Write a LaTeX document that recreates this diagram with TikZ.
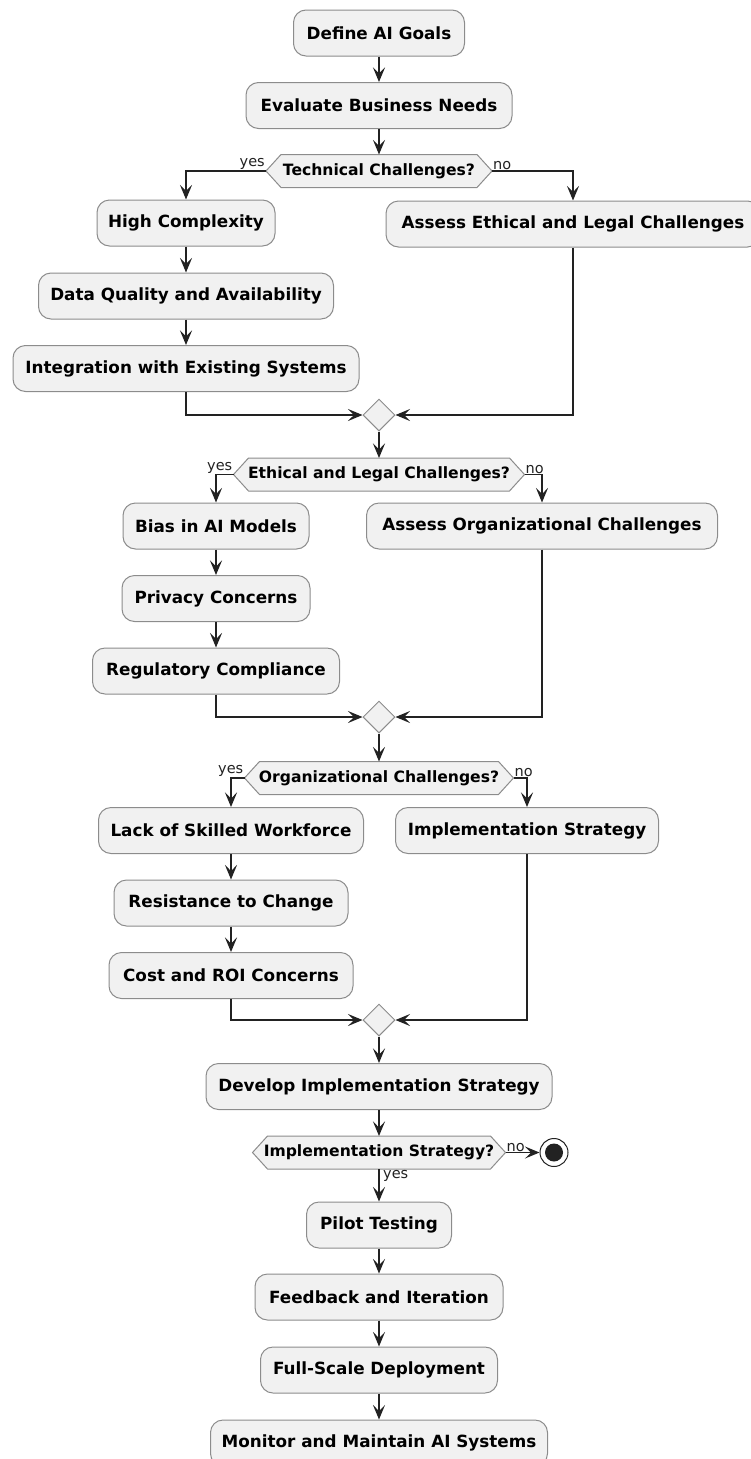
\documentclass[tikz,border=0pt]{standalone}
\usepackage{fontspec}
\setmainfont{DejaVu Sans}
\usetikzlibrary{shapes.geometric,arrows.meta,calc}
\definecolor{boxfill}{HTML}{F1F1F1}
\definecolor{boxline}{HTML}{8C8C8C}
\definecolor{arrowc}{HTML}{222222}
\tikzset{
 act/.style={draw=boxline, fill=boxfill, rounded corners=12.5pt, minimum height=46pt, inner sep=0pt, font=\fontsize{16.8}{19}\selectfont\bfseries, line width=1pt},
 hextxt/.style={inner sep=0pt, font=\fontsize{15.6}{18}\selectfont\bfseries},
 hexshape/.style={draw=boxline, fill=boxfill, line width=1pt},
 merge/.style={diamond, draw=boxline, fill=boxfill, minimum width=32pt, minimum height=32pt, inner sep=0pt, line width=1pt},
 flow/.style={draw=arrowc, line width=1.25pt, -{Stealth[length=14.5pt,width=12pt,inset=6pt]}},
 lbl/.style={font=\fontsize{14.5}{17}\selectfont, text=arrowc, inner sep=1pt},
}
\newcommand\hexbox[5]{%
 \draw[hexshape] (#2-#4,#3) -- (#2-#4+15,#3-16.5) -- (#2+#4-15,#3-16.5) -- (#2+#4,#3) -- (#2+#4-15,#3+16.5) -- (#2-#4+15,#3+16.5) -- cycle;
 \node[hextxt] (#1) at (#2,#3) {#5};
 \coordinate (#1-w) at (#2-#4,#3);
 \coordinate (#1-e) at (#2+#4,#3);
 \coordinate (#1-n) at (#2,#3-16.5);
 \coordinate (#1-s) at (#2,#3+16.5);
}
\begin{document}
\begin{tikzpicture}[x=1pt,y=-1pt]
\useasboundingbox (0,0) rectangle (750,1459);
% main column
\node[act, minimum width=171pt] (a1) at (379,33) {Define AI Goals};
\node[act, minimum width=266pt] (a2) at (379,105.5) {Evaluate Business Needs};
\hexbox{h1}{379}{171}{113}{Technical Challenges?}
% yes branch 1
\node[act, minimum width=178pt] (b1) at (186,223) {High Complexity};
\node[act, minimum width=295pt] (b2) at (186,296) {Data Quality and Availability};
\node[act, minimum width=346pt] (b3) at (186,368.5) {Integration with Existing Systems};
% no branch 1
\node[act, minimum width=374pt] (c1) at (573,224) {Assess Ethical and Legal Challenges};
\node[merge] (m1) at (379,415) {};
\hexbox{h2}{379}{474.5}{145.5}{Ethical and Legal Challenges?}
% yes branch 2
\node[act, minimum width=186pt] (d1) at (216,526) {Bias in AI Models};
\node[act, minimum width=188pt] (d2) at (216,598.5) {Privacy Concerns};
\node[act, minimum width=247pt] (d3) at (216,671) {Regulatory Compliance};
% no branch 2
\node[act, minimum width=351pt] (e1) at (542,526) {Assess Organizational Challenges};
\node[merge] (m2) at (379,717) {};
\hexbox{h3}{379}{778}{134.5}{Organizational Challenges?}
% yes branch 3
\node[act, minimum width=265pt] (f1) at (231,830.5) {Lack of Skilled Workforce};
\node[act, minimum width=234pt] (f2) at (231,903) {Resistance to Change};
\node[act, minimum width=244pt] (f3) at (231,975.5) {Cost and ROI Concerns};
% no branch 3
\node[act, minimum width=263pt] (g1) at (527,830.5) {Implementation Strategy};
\node[merge] (m3) at (379,1020) {};
\node[act, minimum width=346pt] (p1) at (379,1086.5) {Develop Implementation Strategy};
\hexbox{h4}{379}{1152.5}{126.5}{Implementation Strategy?}
\node[circle, draw=arrowc, fill=white, line width=1pt, minimum size=28pt, inner sep=0pt] (end) at (554,1152.5) {};
\fill[arrowc] (end.center) circle (9pt);
\node[act, minimum width=145pt] (p2) at (379,1225) {Pilot Testing};
\node[act, minimum width=248pt] (p3) at (379,1297) {Feedback and Iteration};
\node[act, minimum width=237pt] (p4) at (379,1370) {Full-Scale Deployment};
\node[act, minimum width=337pt] (p5) at (379,1443) {Monitor and Maintain AI Systems};
% connectors
\draw[flow] (a1.south) -- (a2.north);
\draw[flow] (a2.south) -- (h1-n);
\draw[flow] (h1-w) -| (b1.north);
\node[lbl, anchor=south east] (y1) at (h1-w) {yes};
\draw[flow] (h1-e) -| (c1.north);
\node[lbl, anchor=south west] (n1) at (h1-e) {no};
\draw[flow] (b1.south) -- (b2.north);
\draw[flow] (b2.south) -- (b3.north);
\draw[flow] (b3.south) |- (m1.west);
\draw[flow] (c1.south) |- (m1.east);
\draw[flow] (m1.south) -- (h2-n);
\draw[flow] (h2-w) -| (d1.north);
\node[lbl, anchor=south east] (y2) at (h2-w) {yes};
\draw[flow] (h2-e) -| (e1.north);
\node[lbl, anchor=south west] (n2) at (h2-e) {no};
\draw[flow] (d1.south) -- (d2.north);
\draw[flow] (d2.south) -- (d3.north);
\draw[flow] (d3.south) |- (m2.west);
\draw[flow] (e1.south) |- (m2.east);
\draw[flow] (m2.south) -- (h3-n);
\draw[flow] (h3-w) -| (f1.north);
\node[lbl, anchor=south east] (y3) at (h3-w) {yes};
\draw[flow] (h3-e) -| (g1.north);
\node[lbl, anchor=south west] (n3) at (h3-e) {no};
\draw[flow] (f1.south) -- (f2.north);
\draw[flow] (f2.south) -- (f3.north);
\draw[flow] (f3.south) |- (m3.west);
\draw[flow] (g1.south) |- (m3.east);
\draw[flow] (m3.south) -- (p1.north);
\draw[flow] (p1.south) -- (h4-n);
\draw[flow] (h4-e) -- (end.west);
\node[lbl, anchor=south west] (n4) at (h4-e) {no};
\draw[flow] (h4-s) -- (p2.north);
\node[lbl, anchor=north west] (y4) at ($(h4-s)+(3,0)$) {yes};
\draw[flow] (p2.south) -- (p3.north);
\draw[flow] (p3.south) -- (p4.north);
\draw[flow] (p4.south) -- (p5.north);
\end{tikzpicture}
\end{document}
